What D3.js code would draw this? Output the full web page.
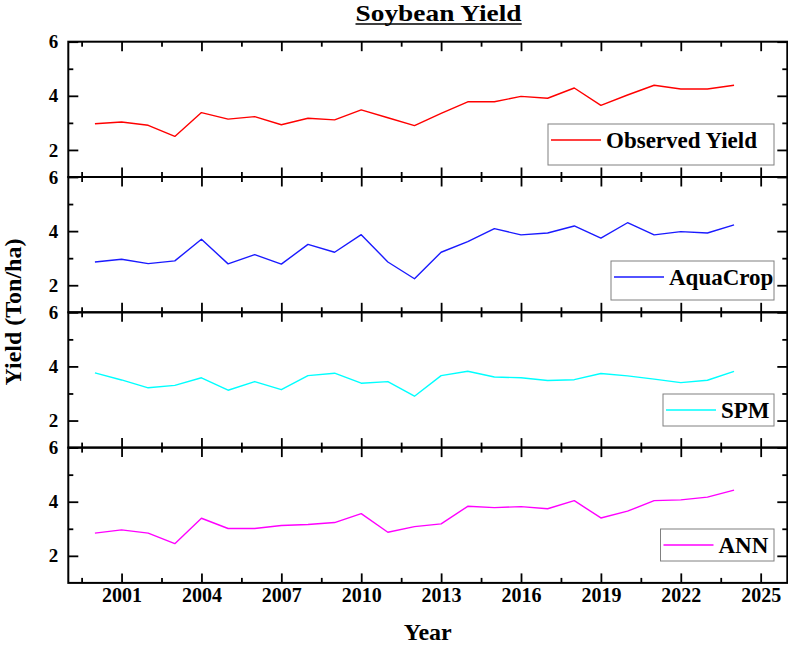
<!DOCTYPE html>
<html>
<head>
<meta charset="utf-8">
<script src="https://cdn.jsdelivr.net/npm/d3@7"></script>
<style>
  body { margin: 0; background: #fff; }
  svg { display: block; font-family: "Liberation Serif", "Times New Roman", serif; font-weight: bold; }
</style>
</head>
<body>
<svg id="chart" width="788" height="646"></svg>
<script>
// data
var years = [2000, 2001, 2002, 2003, 2004, 2005, 2006, 2007, 2008, 2009, 2010, 2011, 2012,
             2013, 2014, 2015, 2016, 2017, 2018, 2019, 2020, 2021, 2022, 2023, 2024];
var observed = [2.97, 3.03, 2.91, 2.50, 3.38, 3.14, 3.23, 2.93, 3.17, 3.11, 3.48, 3.19, 2.90,
                3.35, 3.78, 3.78, 3.98, 3.91, 4.29, 3.65, 4.03, 4.39, 4.25, 4.25, 4.39];
var aquacrop = [2.86, 2.96, 2.80, 2.90, 3.70, 2.79, 3.13, 2.78, 3.51, 3.22, 3.87, 2.86, 2.24,
                3.22, 3.61, 4.09, 3.86, 3.93, 4.19, 3.74, 4.31, 3.86, 3.98, 3.93, 4.23];
var spm = [3.76, 3.50, 3.21, 3.30, 3.58, 3.12, 3.44, 3.14, 3.66, 3.75, 3.38, 3.44, 2.90,
           3.66, 3.82, 3.61, 3.58, 3.48, 3.51, 3.74, 3.65, 3.53, 3.40, 3.49, 3.82];
var ann = [2.84, 2.96, 2.84, 2.45, 3.39, 3.01, 3.01, 3.12, 3.16, 3.23, 3.56, 2.87, 3.08,
           3.18, 3.83, 3.78, 3.82, 3.74, 4.04, 3.40, 3.65, 4.04, 4.07, 4.17, 4.43];

var seriesNames = ["Observed Yield", "AquaCrop", "SPM", "ANN"];
var seriesValues = [observed, aquacrop, spm, ann];
var seriesColors = ["#ff0000", "#1a1aff", "#00ffff", "#ff00ff"];

var xMajorTicks = [2001, 2004, 2007, 2010, 2013, 2016, 2019, 2022, 2025];
var xMinorTicks = [1999.5, 2002.5, 2005.5, 2008.5, 2011.5, 2014.5, 2017.5, 2020.5, 2023.5];
var yMajorTicks = [2, 4, 6];
var yMinorTicks = [3, 5];

// layout
var left = 68.3, right = 787.3;
var panelTop = 41.7, panelH = 135.3;
var legendLeft = [548, 611, 663, 660.5];
var legendTop = [124, 261, 394, 529];
var legendH = [41, 39, 32, 32];
var legendRight = 774;

var svg = d3.select("#chart");

var x = d3.scaleLinear()
    .domain([1999, 2026])
    .range([left, right]);

function styleAxis(g) {
    g.select(".domain").remove();
    g.selectAll(".tick line").attr("stroke", "#000").attr("stroke-width", 1.8);
    g.selectAll(".tick text")
        .attr("fill", "#000")
        .style("font-family", "'Liberation Serif', 'Times New Roman', serif")
        .style("font-weight", "bold");
}

seriesNames.forEach(function(name, i) {
    var top = panelTop + i * panelH;
    var bottom = top + panelH;
    var y = d3.scaleLinear()
        .domain([1, 6])
        .range([bottom, top]);

    var panel = svg.append("g").attr("class", "panel");

    // x ticks (inward, top and bottom)
    panel.append("g")
        .attr("transform", "translate(0," + bottom + ")")
        .call(d3.axisBottom(x).tickValues(xMajorTicks).tickSize(-9.5).tickFormat(i == 3 ? d3.format("d") : ""))
        .call(styleAxis)
        .call(function(g) {
            g.selectAll(".tick text").attr("y", 19).attr("dy", 0).style("font-size", "20px");
        });
    panel.append("g")
        .attr("transform", "translate(0," + bottom + ")")
        .call(d3.axisBottom(x).tickValues(xMinorTicks).tickSize(-5).tickFormat(""))
        .call(styleAxis);
    panel.append("g")
        .attr("transform", "translate(0," + top + ")")
        .call(d3.axisTop(x).tickValues(xMajorTicks).tickSize(-9.5).tickFormat(""))
        .call(styleAxis);
    panel.append("g")
        .attr("transform", "translate(0," + top + ")")
        .call(d3.axisTop(x).tickValues(xMinorTicks).tickSize(-5).tickFormat(""))
        .call(styleAxis);

    // y ticks (inward, left and right)
    panel.append("g")
        .attr("transform", "translate(" + left + ",0)")
        .call(d3.axisLeft(y).tickValues(yMajorTicks).tickSize(-10).tickFormat(d3.format("d")))
        .call(styleAxis)
        .call(function(g) {
            g.selectAll(".tick text").attr("x", -10).style("font-size", "19px");
        });
    panel.append("g")
        .attr("transform", "translate(" + left + ",0)")
        .call(d3.axisLeft(y).tickValues(yMinorTicks).tickSize(-5).tickFormat(""))
        .call(styleAxis);
    panel.append("g")
        .attr("transform", "translate(" + right + ",0)")
        .call(d3.axisRight(y).tickValues(yMajorTicks).tickSize(-10).tickFormat(""))
        .call(styleAxis);
    panel.append("g")
        .attr("transform", "translate(" + right + ",0)")
        .call(d3.axisRight(y).tickValues(yMinorTicks).tickSize(-5).tickFormat(""))
        .call(styleAxis);

    // line
    var line = d3.line()
        .x(function(d) { return x(d[0]); })
        .y(function(d) { return y(d[1]); });

    panel.append("path")
        .datum(d3.zip(years, seriesValues[i]))
        .attr("fill", "none")
        .attr("stroke", seriesColors[i])
        .attr("stroke-width", 1.4)
        .attr("stroke-linejoin", "round")
        .attr("d", line);

    // frame
    panel.append("rect")
        .attr("x", left)
        .attr("y", top)
        .attr("width", right - left)
        .attr("height", panelH)
        .attr("fill", "none")
        .attr("stroke", "#000")
        .attr("stroke-width", 2);

    // legend
    var bx = legendLeft[i];
    var lineY = legendTop[i] + 16;
    var leg = panel.append("g");
    leg.append("rect")
        .attr("x", bx)
        .attr("y", legendTop[i])
        .attr("width", legendRight - bx)
        .attr("height", legendH[i])
        .attr("fill", "#fff")
        .attr("stroke", "#808080")
        .attr("stroke-width", 1);
    leg.append("line")
        .attr("x1", bx + 3)
        .attr("x2", bx + 53)
        .attr("y1", lineY)
        .attr("y2", lineY)
        .attr("stroke", seriesColors[i])
        .attr("stroke-width", 1.4);
    leg.append("text")
        .attr("x", bx + 58)
        .attr("y", lineY + 7.5)
        .style("font-size", "23px")
        .attr("fill", "#000")
        .text(name);
});

// title
var title = svg.append("text")
    .attr("x", 438.5)
    .attr("y", 20.5)
    .attr("text-anchor", "middle")
    .attr("textLength", 166)
    .attr("lengthAdjust", "spacingAndGlyphs")
    .style("font-size", "23px")
    .text("Soybean Yield");
var tb = title.node().getBBox();
svg.append("line")
    .attr("x1", tb.x)
    .attr("x2", tb.x + tb.width)
    .attr("y1", 24)
    .attr("y2", 24)
    .attr("stroke", "#000")
    .attr("stroke-width", 1.6);

// axis titles
svg.append("text")
    .attr("x", (left + right) / 2)
    .attr("y", 640)
    .attr("text-anchor", "middle")
    .style("font-size", "24px")
    .text("Year");

svg.append("text")
    .attr("transform", "translate(21,312) rotate(-90)")
    .attr("text-anchor", "middle")
    .style("font-size", "24px")
    .text("Yield (Ton/ha)");
</script>
</body>
</html>
